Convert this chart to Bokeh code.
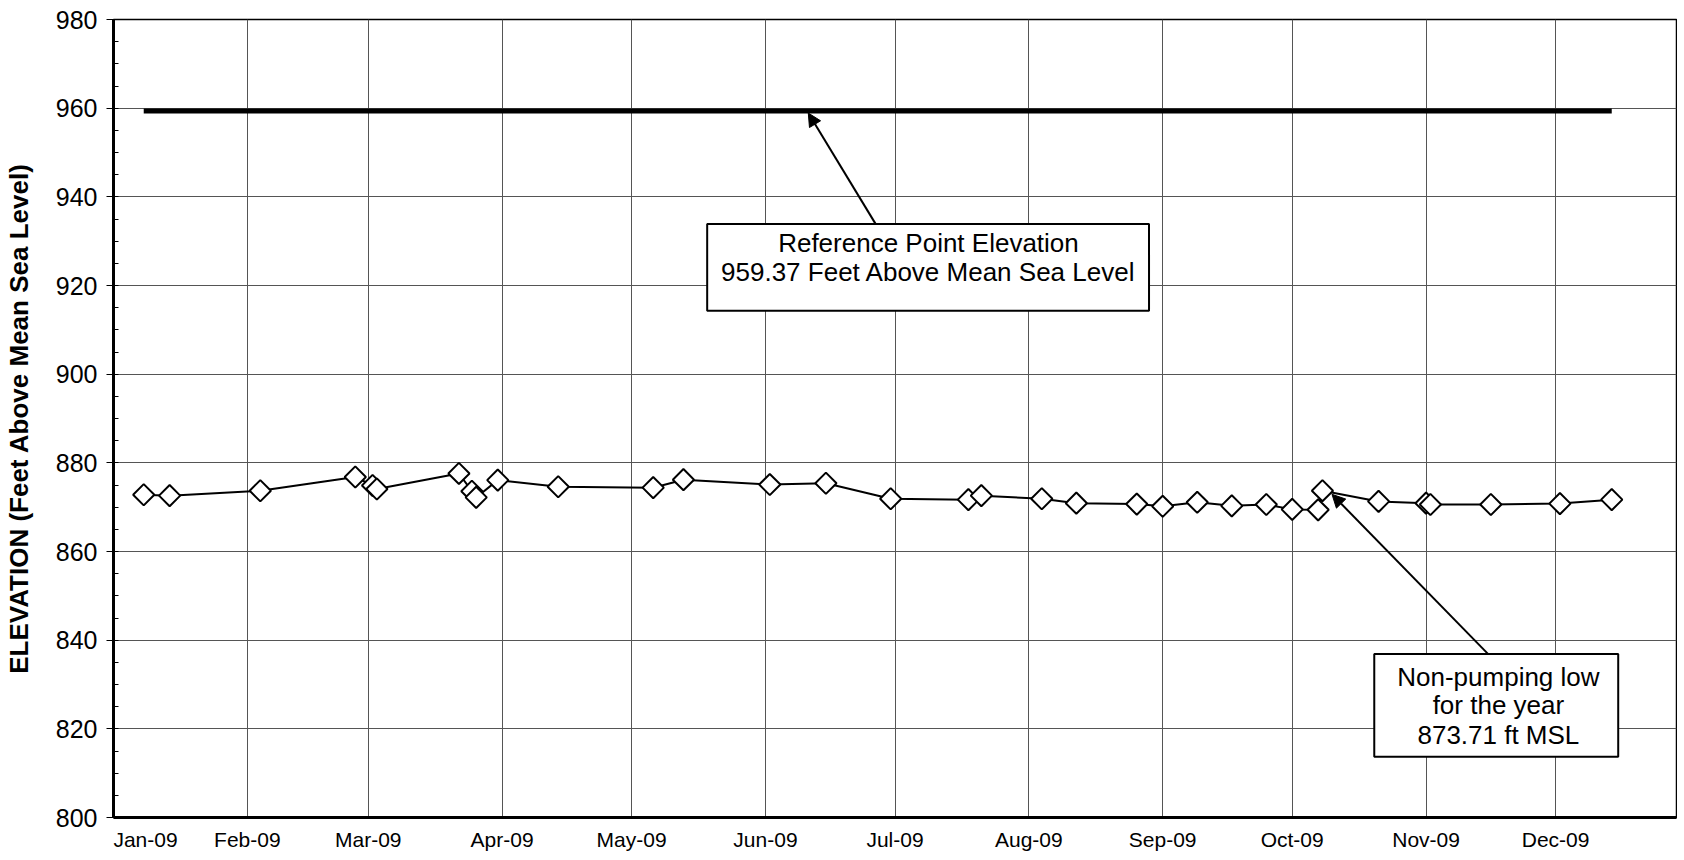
import numpy as np
import pandas as pd
from bokeh.plotting import figure
from bokeh.models import (Range1d, SingleIntervalTicker, FixedTicker, DatetimeTickFormatter,
                          Label, Arrow, NormalHead, ColumnDataSource)
from bokeh.embed import file_html
from bokeh.resources import INLINE

# ---------------- data ----------------
dates = ["2009-01-08", "2009-01-14", "2009-02-04", "2009-02-26", "2009-03-02", "2009-03-03",
         "2009-03-22", "2009-03-25", "2009-03-26", "2009-03-31", "2009-04-14", "2009-05-06",
         "2009-05-13", "2009-06-02", "2009-06-15", "2009-06-30", "2009-07-18", "2009-07-21",
         "2009-08-04", "2009-08-12", "2009-08-26", "2009-09-01", "2009-09-09", "2009-09-17",
         "2009-09-25", "2009-10-01", "2009-10-07", "2009-10-08", "2009-10-21", "2009-11-01",
         "2009-11-02", "2009-11-16", "2009-12-02", "2009-12-14"]
elevation = [872.8, 872.6, 873.7, 876.8, 874.9, 874.1,
             877.6, 873.6, 872.2, 876.1, 874.6, 874.4,
             876.2, 875.1, 875.4, 871.9, 871.7, 872.6,
             871.9, 870.9, 870.7, 870.2, 871.1, 870.3,
             870.6, 869.5, 869.4, 873.71, 871.3, 870.9,
             870.6, 870.6, 870.8, 871.7]
reference_elevation = 959.37
y_label = "ELEVATION (Feet Above Mean Sea Level)"
ref_box_lines = ["Reference Point Elevation", "959.37 Feet Above Mean Sea Level"]
low_box_lines = ["Non-pumping low", "for the year", "873.71 ft MSL"]


def ms(d):
    return pd.Timestamp(d).timestamp() * 1000.0


x = pd.to_datetime(dates)
src = ColumnDataSource(dict(x=x, y=elevation, ref=[reference_elevation] * len(dates)))

month_starts = [ms(t) for t in pd.date_range("2009-01-01", periods=12, freq="MS")]
label_ticks = [ms("2009-01-08 10:00")] + month_starts[1:]

p = figure(frame_width=1563, frame_height=798, x_axis_type="datetime",
           x_range=Range1d(pd.Timestamp("2009-01-01"), pd.Timestamp("2009-12-29")),
           y_range=Range1d(800, 980),
           output_backend="svg", toolbar_location=None,
           min_border_left=112, min_border_top=19, min_border_right=1, min_border_bottom=0,
           background_fill_color="white", border_fill_color="white")

p.outline_line_color = "black"
p.outline_line_width = 1.5

# y axis
p.yaxis.ticker = SingleIntervalTicker(interval=20, num_minor_ticks=4)
p.yaxis.axis_label = y_label
p.yaxis.axis_label_text_font = "Liberation Sans"
p.yaxis.axis_label_text_font_style = "bold"
p.yaxis.axis_label_text_font_size = "26px"
p.yaxis.axis_label_text_color = "black"
p.yaxis.axis_label_standoff = 19
p.yaxis.major_label_text_font = "Liberation Sans"
p.yaxis.major_label_text_font_size = "25px"
p.yaxis.major_label_text_color = "black"
p.yaxis.major_label_standoff = 9
p.yaxis.major_tick_out = 7
p.yaxis.major_tick_in = 0
p.yaxis.minor_tick_in = 5
p.yaxis.minor_tick_out = 0
p.yaxis.axis_line_width = 3
p.yaxis.axis_line_color = "black"
p.yaxis.major_tick_line_color = "black"
p.yaxis.minor_tick_line_color = "black"

# x axis
p.xaxis.ticker = FixedTicker(ticks=label_ticks)
p.xaxis.formatter = DatetimeTickFormatter(days="%b-%y", months="%b-%y", years="%b-%y",
                                          hours="%b-%y")
p.xaxis.major_label_text_font = "Liberation Sans"
p.xaxis.major_label_text_font_size = "21px"
p.xaxis.major_label_text_color = "black"
p.xaxis.major_label_standoff = 10
p.xaxis.major_tick_out = 0
p.xaxis.major_tick_in = 0
p.xaxis.minor_tick_line_color = None
p.xaxis.axis_line_width = 3
p.xaxis.axis_line_color = "black"

p.xgrid.ticker = FixedTicker(ticks=month_starts)
p.xgrid.grid_line_color = "#555555"
p.xgrid.grid_line_width = 1
p.ygrid.grid_line_color = "#555555"
p.ygrid.grid_line_width = 1

# series
p.line("x", "ref", source=src, line_width=5, color="black")
p.line("x", "y", source=src, line_width=2, color="black")
p.scatter("x", "y", source=src, marker="square", angle=np.pi / 4, size=15,
          fill_color="white", line_color="black", line_width=2)

# annotation boxes
p.quad(left=[ms("2009-05-18 12:00"), ms("2009-10-20")],
       right=[ms("2009-08-28 20:00"), ms("2009-12-15 12:00")],
       top=[933.9, 836.9], bottom=[914.3, 813.7],
       fill_color="white", line_color="black", line_width=2)

for txt, yy in zip(ref_box_lines, [929.6, 923.0]):
    p.add_layout(Label(x=ms("2009-07-08 18:00"), y=yy, text=txt, text_align="center",
                       text_baseline="middle", text_font="Liberation Sans",
                       text_font_size="26px", text_color="black"))
for txt, yy in zip(low_box_lines, [831.7, 825.4, 818.5]):
    p.add_layout(Label(x=ms("2009-11-17 18:00"), y=yy, text=txt, text_align="center",
                       text_baseline="middle", text_font="Liberation Sans",
                       text_font_size="26px", text_color="black"))

p.add_layout(Arrow(end=NormalHead(size=13, fill_color="black", line_color="black"),
                   x_start=ms("2009-06-26 12:00"), y_start=933.9,
                   x_end=ms("2009-06-10 22:00"), y_end=958.9,
                   line_width=2, line_color="black"))
p.add_layout(Arrow(end=NormalHead(size=13, fill_color="black", line_color="black"),
                   x_start=ms("2009-11-15 08:00"), y_start=836.9,
                   x_end=ms("2009-10-10 05:00"), y_end=872.9,
                   line_width=2, line_color="black"))

open("out.html", "w").write(file_html(p, INLINE))
